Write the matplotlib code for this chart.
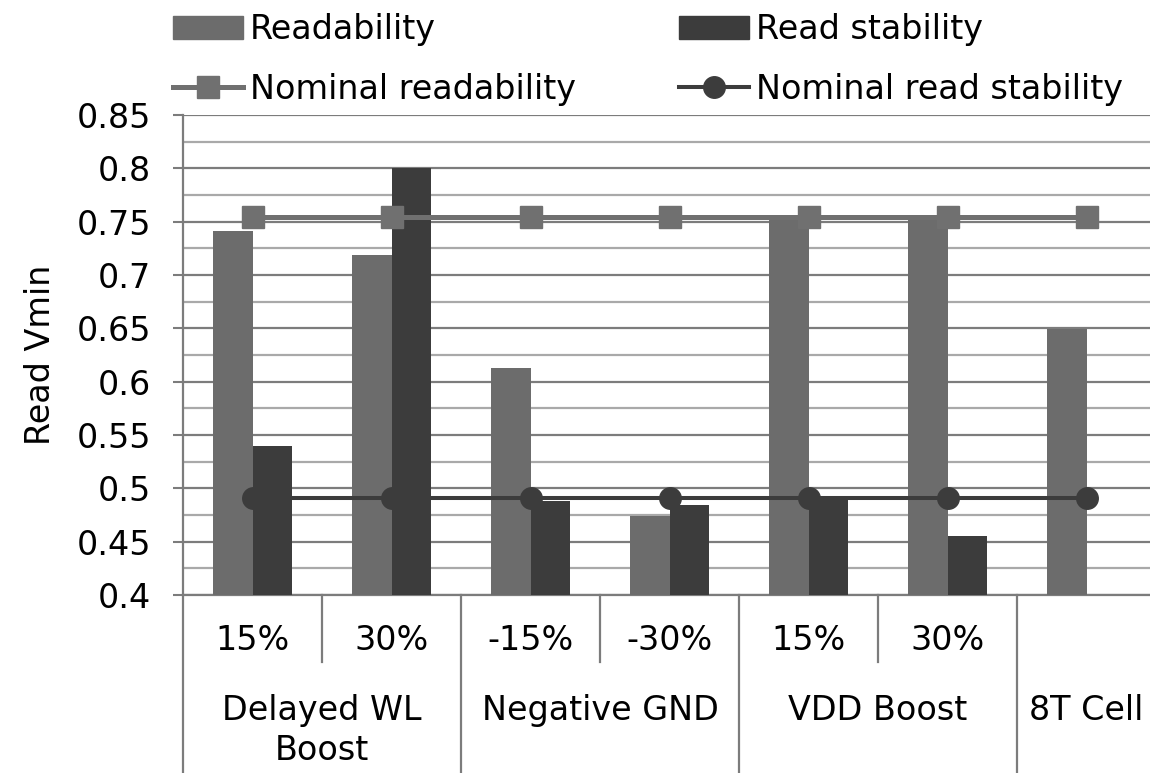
import numpy as np
import matplotlib.pyplot as plt
from matplotlib.patches import Patch
from matplotlib.lines import Line2D
from matplotlib.ticker import MultipleLocator

# data
sub_labels = ['15%', '30%', '-15%', '-30%', '15%', '30%', '']
group_labels = ['Delayed WL\nBoost', 'Negative GND', 'VDD Boost', '8T Cell']
group_spans = [(0, 1), (2, 3), (4, 5), (6, 6)]
readability = [0.741, 0.719, 0.613, 0.474, 0.753, 0.753, 0.649]
read_stability = [0.540, 0.800, 0.488, 0.484, 0.491, 0.455, np.nan]
nominal_readability = [0.754] * 7
nominal_read_stability = [0.491] * 7

c_read = '#6c6c6c'
c_stab = '#3c3c3c'
c_grid_major = '#7c7c7c'
c_grid_minor = '#a9a9a9'
fs = 24

plt.rcParams['font.family'] = 'DejaVu Sans'

W, H = 1150, 773
fig = plt.figure(figsize=(W / 100, H / 100), dpi=100)
ax_left, ax_bottom, ax_top = 183, 595, 115
ax = fig.add_axes([ax_left / W, 1 - ax_bottom / H, 1 - ax_left / W, (ax_bottom - ax_top) / H])

x = np.arange(len(sub_labels))
bw = 0.285
ax.bar(x - bw / 2, readability, bw, bottom=0, color=c_read, zorder=3)
ax.bar(x + bw / 2, read_stability, bw, bottom=0, color=c_stab, zorder=3)

ax.plot(x, nominal_readability, color='#707070', lw=3.6, marker='s', ms=15.5, zorder=4)
ax.plot(x, nominal_read_stability, color=c_stab, lw=2.9, marker='o', ms=15.5, zorder=5)

ax.set_ylim(0.4, 0.85)
ax.set_xlim(-0.5, 6.5 - 6 / 139)
ax.yaxis.set_major_locator(MultipleLocator(0.05))
ax.yaxis.set_minor_locator(MultipleLocator(0.025))
ax.set_yticks([0.4, 0.45, 0.5, 0.55, 0.6, 0.65, 0.7, 0.75, 0.8, 0.85])
ax.set_yticklabels(['0.4', '0.45', '0.5', '0.55', '0.6', '0.65', '0.7', '0.75', '0.8', '0.85'])
ax.grid(axis='y', which='major', color=c_grid_major, lw=1.6, zorder=1)
ax.grid(axis='y', which='minor', color=c_grid_minor, lw=1.6, zorder=1)
ax.tick_params(axis='y', which='major', length=7, width=1.5, color=c_grid_major,
               labelsize=fs, pad=16)
ax.tick_params(axis='y', which='minor', length=0)
ax.set_xticks([])
for s in ['top', 'right']:
    ax.spines[s].set_visible(False)
ax.spines['left'].set_color(c_grid_major)
ax.spines['left'].set_linewidth(1.6)
ax.spines['bottom'].set_color(c_grid_major)
ax.spines['bottom'].set_linewidth(1.6)
ax.set_ylabel('Read Vmin', fontsize=fs, labelpad=14)

# multi-level category axis
tr = ax.get_xaxis_transform()
px = 1 / (ax_bottom - ax_top)
sub_y = -(640 - ax_bottom) * px
grp_y = -(694 - ax_bottom) * px
for xi, lab in zip(x, sub_labels):
    ax.text(xi, sub_y, lab, transform=tr, ha='center', va='center', fontsize=fs)
for (a, b), lab in zip(group_spans, group_labels):
    ax.text((a + b) / 2, grp_y, lab, transform=tr, ha='center', va='top',
            fontsize=fs, linespacing=1.25)

bottom_full = -(H - ax_bottom) * px
bottom_sub = -(662 - ax_bottom) * px
for xb in [-0.5, 1.5, 3.5, 5.5]:
    ax.plot([xb, xb], [0, bottom_full], transform=tr, color=c_grid_major, lw=1.6, clip_on=False)
for xb in [0.5, 2.5, 4.5]:
    ax.plot([xb, xb], [0, bottom_sub], transform=tr, color=c_grid_major, lw=1.6, clip_on=False)

# legend
handles = [
    Patch(color=c_read),
    Line2D([], [], color='#707070', lw=3.6, marker='s', ms=15.5),
    Patch(color=c_stab),
    Line2D([], [], color=c_stab, lw=2.9, marker='o', ms=15.5),
]
labels = ['Readability', 'Nominal readability', 'Read stability', 'Nominal read stability']
fig.legend(handles, labels, ncol=2, loc='upper left', bbox_to_anchor=(173 / W, 1 - 13 / H),
           frameon=False, fontsize=fs, handlelength=2.1, handletextpad=0.2,
           columnspacing=3.1, labelspacing=0.8, borderpad=0, borderaxespad=0)

fig.savefig('out.png', dpi=100)
